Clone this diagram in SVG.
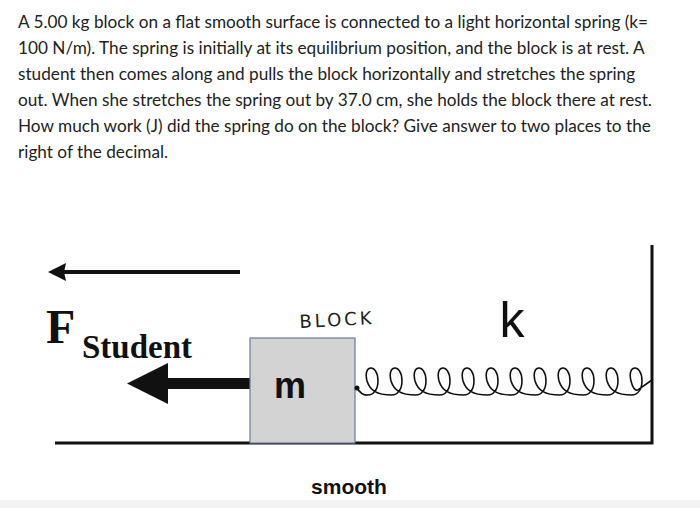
<svg xmlns="http://www.w3.org/2000/svg" width="700" height="508" viewBox="0 0 700 508">
<style>
.p{font-family:Lato,"Open Sans",sans-serif;font-size:17.2px;fill:#222}
.ln{stroke:#111;stroke-width:3;fill:none}
</style>
<rect width="700" height="508" fill="#fff"/>
<rect y="500" width="700" height="8" fill="#f3f3f3"/>
<g id="question">
<text class="p" x="18" y="28">A 5.00 kg block on a flat smooth surface is connected to a light horizontal spring (k=</text>
<text class="p" x="18" y="54">100 N/m). The spring is initially at its equilibrium position, and the block is at rest. A</text>
<text class="p" x="18" y="80">student then comes along and pulls the block horizontally and stretches the spring</text>
<text class="p" x="18" y="106">out. When she stretches the spring out by 37.0 cm, she holds the block there at rest.</text>
<text class="p" x="18" y="132">How much work (J) did the spring do on the block? Give answer to two places to the</text>
<text class="p" x="18" y="158">right of the decimal.</text>
</g>
<g id="floor">
<path class="ln" d="M55 443 H652 V245"/>
</g>
<g id="top-arrow">
<path d="M62 272 H240" stroke="#111" stroke-width="4"/>
<path d="M48 272 L66 263 L64 272 L66 281 Z" fill="#111"/>
</g>
<g id="force-label">
<text x="46" y="343" font-family="'Liberation Serif',serif" font-weight="bold" font-size="48" fill="#111">F</text>
<text x="82" y="358" font-family="'Liberation Serif',serif" font-weight="bold" font-size="33" fill="#111">Student</text>
</g>
<g id="force-arrow">
<path d="M168 378 H250 V389 H168 Z M127 383.5 L168 363 L168 404 Z" fill="#111"/>
</g>
<g id="block">
<rect x="250" y="338" width="105" height="105" fill="#d3d3d3" stroke="#6f7a99" stroke-width="1.2"/>
<text x="290" y="398" text-anchor="middle" font-family="'Liberation Sans',Arial,sans-serif" font-weight="bold" font-size="36" fill="#111">m</text>
<text x="337" y="326" text-anchor="middle" font-family="'DejaVu Sans',sans-serif" font-size="18" fill="#222" letter-spacing="3" transform="rotate(-3 337 320)">BLOCK</text>
</g>
<g id="k-label">
<text x="512" y="337" text-anchor="middle" font-family="'Liberation Sans',Arial,sans-serif" font-size="50" fill="#111">k</text>
</g>
<g id="spring">
<circle cx="357" cy="388" r="2.5" fill="#111"/>
<path d="M357 388 Q362 396 368 395 c5 0 10 -5 10 -14 c0 -9 -4 -13 -7 -13 c-4 0 -6 5 -4 13 c3 9 9 14 25 14 c5 0 10 -5 10 -14 c0 -9 -4 -13 -7 -13 c-4 0 -6 5 -4 13 c3 9 9 14 25 14 c5 0 10 -5 10 -14 c0 -9 -4 -13 -7 -13 c-4 0 -6 5 -4 13 c3 9 9 14 25 14 c5 0 10 -5 10 -14 c0 -9 -4 -13 -7 -13 c-4 0 -6 5 -4 13 c3 9 9 14 25 14 c5 0 10 -5 10 -14 c0 -9 -4 -13 -7 -13 c-4 0 -6 5 -4 13 c3 9 9 14 25 14 c5 0 10 -5 10 -14 c0 -9 -4 -13 -7 -13 c-4 0 -6 5 -4 13 c3 9 9 14 25 14 c5 0 10 -5 10 -14 c0 -9 -4 -13 -7 -13 c-4 0 -6 5 -4 13 c3 9 9 14 25 14 c5 0 10 -5 10 -14 c0 -9 -4 -13 -7 -13 c-4 0 -6 5 -4 13 c3 9 9 14 25 14 c5 0 10 -5 10 -14 c0 -9 -4 -13 -7 -13 c-4 0 -6 5 -4 13 c3 9 9 14 25 14 c5 0 10 -5 10 -14 c0 -9 -4 -13 -7 -13 c-4 0 -6 5 -4 13 c3 9 9 14 25 14 c5 0 10 -5 10 -14 c0 -9 -4 -13 -7 -13 c-4 0 -6 5 -4 13 c3 9 9 14 25 14 c5 0 10 -5 10 -14 c0 -9 -4 -13 -7 -13 c-4 0 -6 5 -4 13 c2 8 5 11 8 8 L652 380" fill="none" stroke="#111" stroke-width="1.6"/>
</g>
<g id="smooth-label">
<text x="349" y="494" text-anchor="middle" font-family="'Liberation Sans',Arial,sans-serif" font-weight="bold" font-size="21" fill="#111">smooth</text>
</g>
</svg>
